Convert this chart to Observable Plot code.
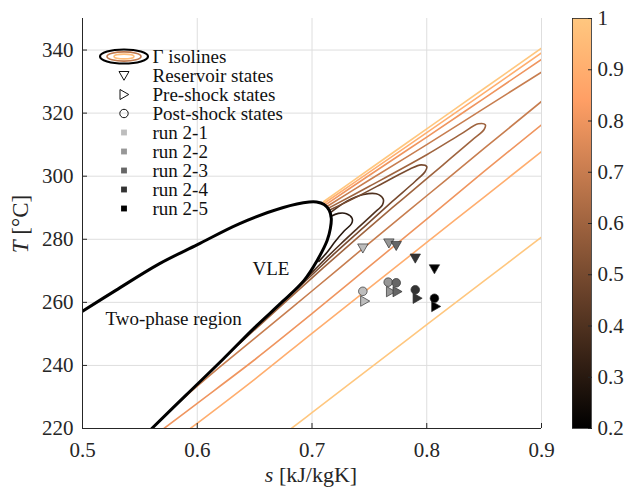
<!DOCTYPE html>
<html><head><meta charset="utf-8">
<script src="https://cdn.jsdelivr.net/npm/d3@7"></script>
<script src="https://cdn.jsdelivr.net/npm/@observablehq/plot@0.6"></script>
<style>
body{margin:0;background:#fff;}
#wrap{position:relative;width:630px;height:489px;}
#wrap svg{position:absolute;left:0;top:0;}
#wrap svg, #wrap svg text, #wrap svg tspan{font-family:"Liberation Serif","DejaVu Serif",serif !important;}
</style></head><body><div id="wrap"></div>
<script>
// ---------- data ----------
const xTicks = [0.5, 0.6, 0.7, 0.8, 0.9];
const yTicks = [220, 240, 260, 280, 300, 320, 340];
const cbTicks = [0.2, 0.3, 0.4, 0.5, 0.6, 0.7, 0.8, 0.9, 1];

// saturation dome (s [kJ/kgK], T [°C])
const vleLine = [[0.5,257.2],[0.529,263.8],[0.5668,272.2],[0.6002,278.3],[0.6365,284.9],[0.6743,290.0],[0.6975,291.8],[0.7040,291.8],[0.7105,291.0],[0.7150,289.2],[0.7168,286.6],[0.7160,283.4],[0.7132,279.6],[0.7045,273.3],[0.6929,266.9],[0.6754,260.6],[0.650,252.0],[0.622,241.8],[0.590,230.5],[0.5604,220.0]];

// Gamma isolines
const iso03 = [[0.7163,287.2],[0.7230,288.2],[0.7300,288.1],[0.7350,286.6],[0.7345,285.0],[0.7280,282.6],[0.7200,279.2],[0.7130,275.8],[0.7060,273.0]];
const iso04 = [[0.7158,288.4],[0.7300,292.0],[0.7450,294.2],[0.7560,294.4],[0.7620,292.8],[0.7615,291.0],[0.7540,288.3],[0.7400,283.6],[0.7250,278.5],[0.7100,273.2],[0.6950,267.6],[0.6800,262.2]];
const iso05 = [[0.7150,289.2],[0.7400,293.6],[0.7650,298.4],[0.7850,302.2],[0.7950,303.6],[0.8000,303.0],[0.7985,301.4],[0.7900,298.4],[0.7700,292.0],[0.7450,283.8],[0.7200,275.6],[0.6950,267.0],[0.6700,258.6],[0.6500,252.0]];
const iso06 = [[0.7140,289.8],[0.7500,296.8],[0.8000,306.8],[0.8300,313.4],[0.8450,316.6],[0.8510,316.3],[0.8500,314.8],[0.8400,311.6],[0.8200,305.4],[0.8000,299.2],[0.7700,290.0],[0.7400,280.6],[0.7100,271.0],[0.6800,261.2],[0.6500,251.3],[0.6300,244.6],[0.6150,239.4]];
const iso07up = [[0.7130,290.4],[0.7500,298.8],[0.8000,310.0],[0.8500,321.5],[0.9000,333.0]];
const iso07lo = [[0.9000,323.7],[0.8500,308.8],[0.8000,293.8],[0.7500,278.8],[0.7000,263.6],[0.6500,248.6],[0.6200,239.6],[0.6000,233.4],[0.5850,228.6]];
const iso08up = [[0.7120,291.0],[0.7500,300.3],[0.8000,312.4],[0.8500,324.7],[0.9000,337.0]];
const iso08lo = [[0.9000,316.3],[0.8500,301.5],[0.8000,286.4],[0.7500,271.4],[0.7000,256.4],[0.6500,241.8],[0.6000,228.0],[0.5710,220.0]];
const iso09up = [[0.7110,291.5],[0.7500,301.3],[0.8000,313.8],[0.8500,326.4],[0.9000,339.1]];
const iso09lo = [[0.9000,307.8],[0.8500,293.4],[0.8000,279.0],[0.7500,264.6],[0.7000,250.2],[0.6500,235.6],[0.5940,220.0]];
const iso10up = [[0.7100,291.9],[0.7500,302.2],[0.8000,315.0],[0.8500,327.8],[0.9000,340.6]];
const iso10lo = [[0.9000,280.7],[0.8500,266.8],[0.8000,252.9],[0.7500,239.0],[0.7000,225.0],[0.6820,220.0]];

const isoLevels = [0.3, 0.4, 0.5, 0.6, 0.7, 0.7, 0.8, 0.8, 0.9, 0.9, 1.0, 1.0];
const isoCurves = [iso03, iso04, iso05, iso06, iso07up, iso07lo, iso08up, iso08lo, iso09up, iso09lo, iso10up, iso10lo];

// experimental states
const runs = ["run 2-1", "run 2-2", "run 2-3", "run 2-4", "run 2-5"];
const runColors = ["#bdbdbd", "#979797", "#666666", "#333333", "#000000"];
const reservoirS = [0.7443, 0.7670, 0.7734, 0.7900, 0.8067];
const reservoirT = [277.2, 278.8, 278.0, 274.0, 270.6];
const preS = [0.7460, 0.7685, 0.7742, 0.7917, 0.8079];
const preT = [260.4, 263.4, 263.4, 261.3, 258.7];
const postS = [0.7443, 0.7664, 0.7734, 0.7900, 0.8067];
const postT = [263.5, 266.4, 266.2, 264.0, 261.3];

// annotations
const annoText = ["VLE", "Two-phase region"];
const annoS = [0.6481, 0.5200];
const annoT = [270.7, 254.6];

const legendLabels = ["Γ isolines", "Reservoir states", "Pre-shock states", "Post-shock states", ...runs];

// ---------- helpers ----------
function copper(t) {
  t = Math.max(0, Math.min(1, t));
  return d3.rgb(255 * Math.min(1, 1.25 * t), 255 * 0.7812 * t, 255 * 0.4975 * t).formatHex();
}
const triDown = {draw(ctx, size) {const r = Math.sqrt(size / Math.PI); ctx.moveTo(-r, -0.8 * r); ctx.lineTo(r, -0.8 * r); ctx.lineTo(0, 0.95 * r); ctx.closePath();}};
const triRight = {draw(ctx, size) {const r = Math.sqrt(size / Math.PI); ctx.moveTo(-0.8 * r, -r); ctx.lineTo(-0.8 * r, r); ctx.lineTo(0.95 * r, 0); ctx.closePath();}};
function ellipseSym(rx, ry) {
  const k = 0.5523;
  return {draw(ctx) {
    ctx.moveTo(rx, 0);
    ctx.bezierCurveTo(rx, ry * k, rx * k, ry, 0, ry);
    ctx.bezierCurveTo(-rx * k, ry, -rx, ry * k, -rx, 0);
    ctx.bezierCurveTo(-rx, -ry * k, -rx * k, -ry, 0, -ry);
    ctx.bezierCurveTo(rx * k, -ry, rx, -ry * k, rx, 0);
    ctx.closePath();
  }};
}

// ---------- tables ----------
const isoRows = isoCurves.flatMap((c, i) => c.map(([s, T]) => ({s, T, level: isoLevels[i], id: i})));
const vleRows = vleLine.map(([s, T]) => ({s, T}));
const resRows = runs.map((r, i) => ({s: reservoirS[i], T: reservoirT[i], c: runColors[i]}));
const preRows = runs.map((r, i) => ({s: preS[i], T: preT[i], c: runColors[i]}));
const postRows = runs.map((r, i) => ({s: postS[i], T: postT[i], c: runColors[i]}));
const annoRows = annoText.map((t, i) => ({t, s: annoS[i], T: annoT[i]}));

const FONT = "Liberation Serif, DejaVu Serif, serif";
const AX = "#262626";
const wrap = document.getElementById("wrap");

// ---------- main chart ----------
const main = Plot.plot({
  width: 630, height: 489,
  marginLeft: 82, marginRight: 89, marginTop: 18, marginBottom: 61,
  style: {fontFamily: FONT, fontSize: "21px", color: AX, background: "white"},
  x: {domain: [0.5, 0.9]},
  y: {domain: [220, 350]},
  color: {type: "linear", domain: [0.2, 1], interpolate: (t) => copper(t)},
  marks: [
    Plot.gridX(xTicks.slice(1), {stroke: "#dedede", strokeOpacity: 1, strokeWidth: 1}),
    Plot.gridY(yTicks.slice(1), {stroke: "#dedede", strokeOpacity: 1, strokeWidth: 1}),
    Plot.line(isoRows, {x: "s", y: "T", z: "id", stroke: "level", strokeWidth: 1.6, curve: "catmull-rom", clip: true}),
    Plot.line(vleRows, {x: "s", y: "T", stroke: "black", strokeWidth: 3, curve: "catmull-rom", clip: true}),
    Plot.text(annoRows, {x: "s", y: "T", text: "t", textAnchor: "start", fontSize: 19, fill: "#111"}),
    Plot.dot(resRows, {x: "s", y: "T", symbol: triDown, r: 5.2, fill: "c", stroke: "#303030", strokeWidth: 0.7}),
    Plot.dot(preRows, {x: "s", y: "T", symbol: triRight, r: 5.2, fill: "c", stroke: "#303030", strokeWidth: 0.7}),
    Plot.dot(postRows, {x: "s", y: "T", symbol: "circle", r: 4.3, fill: "c", stroke: "#303030", strokeWidth: 0.7}),
    Plot.axisX({ticks: xTicks, tickSize: -5, tickPadding: 19, tickFormat: (d) => d.toFixed(1), stroke: AX, fill: AX, label: null}),
    Plot.axisY({ticks: yTicks, tickSize: -5, tickPadding: 14, tickFormat: (d) => String(d), stroke: AX, fill: AX, label: null}),
    Plot.ruleX([0.5], {stroke: AX, strokeWidth: 1}),
    Plot.ruleY([220], {stroke: AX, strokeWidth: 1})
  ]
});
wrap.appendChild(main);
const ms = d3.select(main);
const xl = ms.append("text").attr("x", 311).attr("y", 477).attr("text-anchor", "middle").attr("dominant-baseline", "middle")
  .attr("font-size", 22).attr("fill", AX);
xl.append("tspan").attr("font-style", "italic").text("s");
xl.append("tspan").text(" [kJ/kgK]");
const yl = ms.append("text").attr("transform", "translate(23,224) rotate(-90)").attr("text-anchor", "middle").attr("dominant-baseline", "middle")
  .attr("font-size", 23).attr("fill", AX);
yl.append("tspan").attr("font-style", "italic").text("T");
yl.append("tspan").text(" [°C]");

// ---------- colorbar ----------
const cb = Plot.plot({
  width: 630, height: 489,
  marginLeft: 572, marginRight: 39, marginTop: 18, marginBottom: 61,
  style: {fontFamily: FONT, fontSize: "21px", color: AX, background: "transparent"},
  x: {domain: [0, 1], axis: null},
  y: {domain: [0.2, 1]},
  marks: [
    Plot.rect([0], {x1: 0, x2: 1, y1: 0.2, y2: 1, fill: "url(#copperGrad)"}),
    Plot.axisY({anchor: "right", ticks: cbTicks, tickSize: -4, tickPadding: 10, tickFormat: (d) => d === 1 ? "1" : d.toFixed(1), stroke: AX, fill: AX, label: null}),
    Plot.frame({stroke: AX, strokeWidth: 0.8})
  ]
});
wrap.appendChild(cb);
const grad = d3.select(cb).append("defs").append("linearGradient").attr("id", "copperGrad")
  .attr("x1", 0).attr("y1", 1).attr("x2", 0).attr("y2", 0);
[0, 0.8, 1].forEach((o) => grad.append("stop").attr("offset", o).attr("stop-color", copper(o)));

// ---------- legend ----------
const legRows = legendLabels.map((l) => ({l}));
const lg = Plot.plot({
  width: 630, height: 489, margin: 0,
  style: {fontFamily: FONT, fontSize: "19px", color: "#111", background: "transparent"},
  x: {domain: [0, 1], range: [123.5, 152], axis: null},
  y: {type: "point", domain: legendLabels, range: [43.5, 220], axis: null},
  marks: [
    Plot.dot([legendLabels[0]], {x: () => 0, y: (d) => d, symbol: ellipseSym(24, 7), r: 5, fill: "none", stroke: "black", strokeWidth: 2.2}),
    Plot.dot([legendLabels[0]], {x: () => 0, y: (d) => d, symbol: ellipseSym(17, 4.6), r: 5, fill: "none", stroke: copper(0.6), strokeWidth: 1.6}),
    Plot.dot([legendLabels[0]], {x: () => 0, y: (d) => d, symbol: ellipseSym(10, 2.4), r: 5, fill: "none", stroke: copper(0.95), strokeWidth: 1.6}),
    Plot.dot([legendLabels[1]], {x: () => 0, y: (d) => d, symbol: triDown, r: 5, fill: "none", stroke: "#111", strokeWidth: 1}),
    Plot.dot([legendLabels[2]], {x: () => 0, y: (d) => d, symbol: triRight, r: 5, fill: "none", stroke: "#111", strokeWidth: 1}),
    Plot.dot([legendLabels[3]], {x: () => 0, y: (d) => d, symbol: "circle", r: 4.2, fill: "none", stroke: "#111", strokeWidth: 1}),
    Plot.dot(runs.map((r, i) => ({r, c: runColors[i]})), {x: () => 0, y: "r", symbol: "square", r: 3.3, fill: "c", stroke: "none"}),
    Plot.text(legRows, {x: () => 1, y: "l", text: "l", textAnchor: "start", fill: "#111", fontSize: 19})
  ]
});
wrap.appendChild(lg);
</script></body></html>
